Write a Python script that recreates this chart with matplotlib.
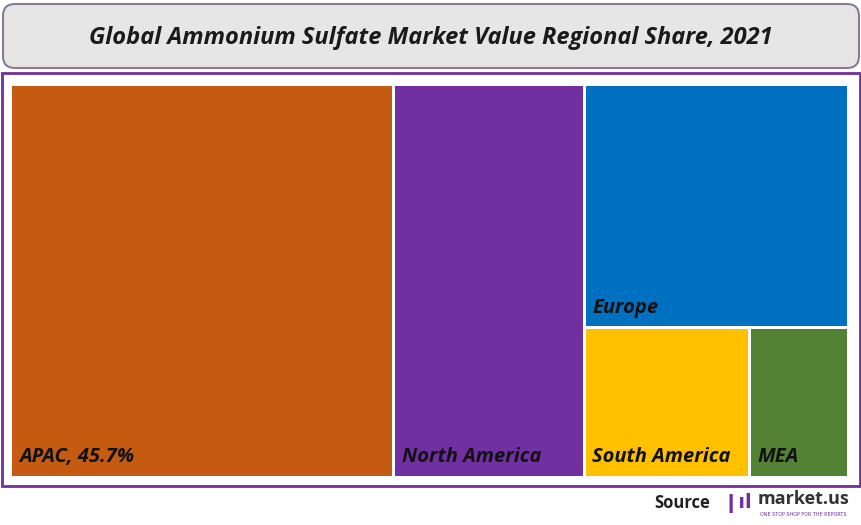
import matplotlib
matplotlib.use("Agg")
import matplotlib.pyplot as plt
from matplotlib.patches import Rectangle, FancyBboxPatch

regions = ["APAC", "North America", "Europe", "South America", "MEA"]
shares = [45.7, 22.7, 19.6, 7.5, 4.5]
labels = ["APAC, 45.7%", "North America", "Europe", "South America", "MEA"]
colors = ["#C55A11", "#7030A0", "#0070C0", "#FFC000", "#548235"]

W, H = 862, 525
fig = plt.figure(figsize=(W/100, H/100), dpi=100)
ax = fig.add_axes([0, 0, 1, 1])
ax.set_xlim(0, W); ax.set_ylim(H, 0); ax.axis("off")

ax.add_patch(FancyBboxPatch((3, 4), W-6, 64, boxstyle="round,pad=0,rounding_size=12",
                            fc="#E7E6E6", ec="#8B7A96", lw=1.5))
ax.text(W/2, 38, "Global Ammonium Sulfate Market Value Regional Share, 2021",
        ha="center", va="center", fontsize=17, fontweight="bold", style="italic",
        family="Open Sans", color="#1a1a1a")
ax.add_patch(Rectangle((2, 73), W-4, 413, fc="white", ec="#7030A0", lw=2))

x0, y0, x1, y1 = 11, 84, 849, 477
tw, th = x1-x0, y1-y0
tot = sum(shares)
gap = 3
rects = []
x = x0
for v in shares[:2]:
    w = tw*v/tot
    rects.append((x, y0, w, th)); x += w
rw = x1 - x
rest = sum(shares[2:])
eh = th*shares[2]/rest
rects.append((x, y0, rw, eh))
bot = shares[3]+shares[4]
bx = x
for v in shares[3:]:
    w = rw*v/bot
    rects.append((bx, y0+eh, w, th-eh)); bx += w

for (rx, ry, rw_, rh), c, lab in zip(rects, colors, labels):
    ax.add_patch(Rectangle((rx+gap/2, ry+gap/2), rw_-gap, rh-gap, fc=c, ec="none"))
    ax.text(rx+8, ry+rh-10, lab, ha="left", va="bottom", fontsize=14.5,
            fontweight="bold", style="italic", family="Open Sans", color="#111111")

ax.text(710, 503, "Source", ha="right", va="center", fontsize=12, fontweight="bold",
        family="Open Sans", color="#222222")
ax.text(722, 503, "\u2759ıl", ha="left", va="center", fontsize=14, fontweight="bold", color="#7030A0")
ax.text(758, 499, "market.us", ha="left", va="center", fontsize=13, fontweight="bold",
        family="Open Sans", color="#333333")
ax.text(760, 514, "ONE STOP SHOP FOR THE REPORTS", ha="left", va="center", fontsize=3.5,
        color="#7030A0")
fig.savefig("out.png", dpi=100)
